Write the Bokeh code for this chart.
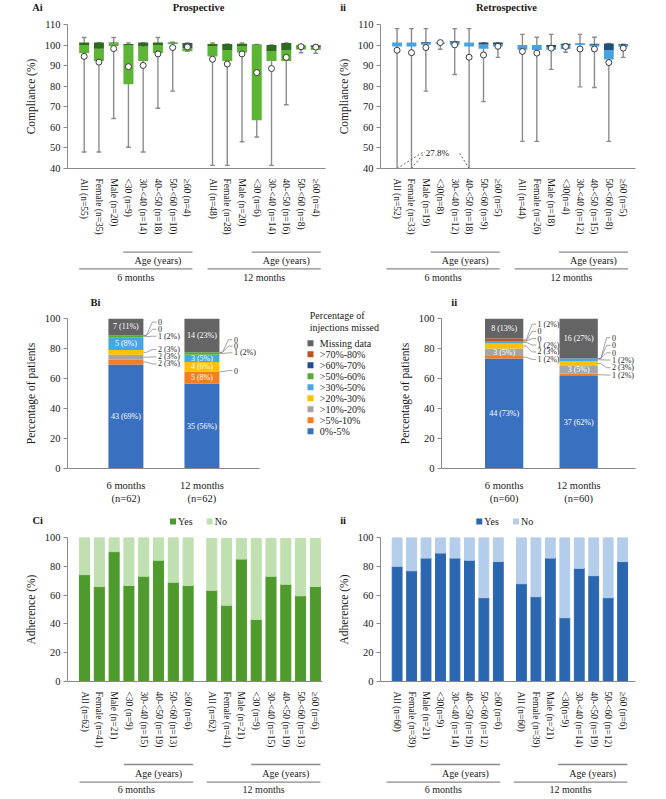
import math
from bokeh.plotting import figure
from bokeh.models import (Range1d, FixedTicker, CustomJSTickFormatter, ColumnDataSource)
from bokeh.layouts import column, row
from bokeh.embed import file_html
from bokeh.resources import INLINE
from bokeh.core.properties import value

FONT = "Liberation Serif"
AXIS_COLOR = "#8a8a8a"
TEXT_COLOR = "#1a1a1a"
WHISKER = "#8c8c8c"

# ======================= DATA =======================
# ---- A: compliance (%) box plots (6 months then 12 months) ----
pro_labels = ["All (n=55)", "Female (n=35)", "Male (n=20)", "<30 (n=9)", "30-<40 (n=14)",
              "40-<50 (n=18)", "50-<60 (n=10)", "≥60 (n=4)",
              "All (n=48)", "Female (n=28)", "Male (n=20)", "<30 (n=6)", "30-<40 (n=14)",
              "40-<50 (n=16)", "50-<60 (n=8)", "≥60 (n=4)"]
pro_min = [48.0, 48.0, 64.3, 50.3, 48.0, 69.3, 77.6, 97.0,
           41.5, 41.5, 53.0, 55.3, 41.5, 71.0, 96.3, 96.0]
pro_q1 = [96.0, 92.3, 99.5, 80.9, 92.3, 96.2, 100.5, 97.0,
          94.5, 92.3, 96.4, 63.4, 92.3, 92.3, 97.8, 97.6]
pro_med = [100.0, 98.2, 100.9, 100.0, 99.3, 100.0, 101.3, 98.5,
           99.6, 97.6, 99.6, 100.0, 97.1, 97.6, 99.9, 98.8]
pro_q3 = [101.2, 101.2, 101.2, 100.5, 101.2, 101.2, 101.4, 101.0,
          100.5, 100.5, 100.6, 100.3, 100.0, 101.0, 100.0, 99.9]
pro_max = [103.7, 101.2, 103.7, 101.0, 101.2, 103.7, 101.4, 101.0,
           101.0, 100.5, 101.0, 100.3, 100.0, 101.0, 100.0, 99.9]
pro_mean = [94.5, 91.7, 98.3, 89.5, 90.1, 95.7, 98.8, 99.1,
            93.1, 90.8, 95.7, 86.6, 88.6, 94.0, 99.2, 99.0]

ret_labels = ["All (n=52)", "Female (n=33)", "Male (n=19)", "<30(n=8)", "30-<40 (n=12)",
              "40-<50 (n=18)", "50-<60 (n=9)", "≥60 (n=5)",
              "All (n=44)", "Female (n=26)", "Male (n=18)", "<30(n=4)", "30-<40 (n=12)",
              "40-<50 (n=15)", "50-<60 (n=8)", "≥60 (n=5)"]
ret_min = [27.8, 27.8, 77.6, 98.0, 85.7, 27.8, 72.5, 94.0,
           53.2, 53.2, 88.2, 96.5, 79.7, 79.4, 53.2, 94.0]
ret_q1 = [99.3, 99.3, 100.1, 100.6, 100.2, 99.3, 98.2, 99.3,
          97.7, 97.6, 97.7, 98.1, 100.0, 99.3, 93.0, 99.2]
ret_med = [101.2, 101.2, 101.0, 101.2, 101.3, 101.2, 100.3, 100.4,
           100.0, 100.0, 99.1, 99.9, 100.5, 100.1, 97.6, 99.9]
ret_q3 = [101.2, 101.2, 101.4, 101.2, 101.9, 101.2, 101.2, 101.2,
          100.0, 100.0, 100.0, 100.6, 100.8, 100.6, 100.8, 100.4]
ret_max = [108.0, 108.0, 108.0, 101.2, 108.0, 108.0, 101.2, 101.2,
           105.2, 103.8, 105.2, 100.6, 105.2, 103.8, 100.8, 100.4]
ret_mean = [97.5, 96.3, 98.8, 101.2, 100.1, 94.1, 95.2, 99.4,
            96.9, 96.1, 98.5, 99.3, 98.1, 98.1, 91.5, 98.5]
ret_min_note = "27.8%"
ret_min_note_bars = [0, 1, 5]

# ---- B: percentage of injections missed (counts) ----
miss_cats = ["0%-5%", ">5%-10%", ">10%-20%", ">20%-30%", ">30%-50%",
             ">50%-60%", ">60%-70%", ">70%-80%", "Missing data"]
b_times_pro = ["6 months\n(n=62)", "12 months\n(n=62)"]
b_times_ret = ["6 months\n(n=60)", "12 months\n(n=60)"]
bi_n = 62
bi_6m = [43, 2, 2, 2, 5, 1, 0, 0, 7]
bi_12m = [35, 5, 0, 4, 3, 1, 0, 0, 14]
bii_n = 60
bii_6m = [44, 1, 3, 2, 1, 0, 0, 1, 8]
bii_12m = [37, 1, 3, 2, 1, 0, 0, 0, 16]
legend_title = ["Percentage of", "injections missed"]

# ---- C: adherence (%) ----
ci_labels = ["All (n=62)", "Female (n=41)", "Male (n=21)", "<30 (n=9)", "30-<40 (n=15)",
             "40-<50 (n=19)", "50-<60 (n=13)", "≥60 (n=6)"] * 2
ci_yes = [74.2, 65.9, 90.2, 66.7, 73.1, 84.2, 68.9, 66.7,
          63.3, 52.9, 85.0, 43.1, 73.1, 67.5, 59.5, 66.0]
ci_no = [25.8, 34.1, 9.8, 33.3, 26.9, 15.8, 31.1, 33.3,
         36.0, 46.4, 14.3, 56.2, 26.2, 31.8, 39.8, 33.3]
cii_labels = ["All (n=60)", "Female (n=39)", "Male (n=21)", "<30(n=9)", "30-<40 (n=14)",
              "40-<50 (n=19)", "50-<60 (n=12)", "≥60 (n=6)"] * 2
cii_yes = [80.0, 76.9, 85.7, 89.2, 85.7, 84.2, 58.2, 83.3,
           67.9, 58.9, 85.7, 44.3, 78.6, 73.5, 58.2, 83.3]
cii_no = [20.0, 23.1, 14.3, 10.8, 14.3, 15.8, 41.8, 16.7,
          32.1, 41.1, 14.3, 55.7, 21.4, 26.5, 41.8, 16.7]
adh_series = ["Yes", "No"]

group_names = ["6 months", "12 months"]
age_group_name = "Age (years)"

# ======================= STYLE =======================
miss_colors = ["#3a70c0", "#f67e1f", "#a5a5a5", "#ffc000", "#47a7e3",
               "#58ad36", "#1f4e8c", "#c0541c", "#646464"]
PRO_LIGHT, PRO_DARK = "#5cb534", "#2e6b20"
RET_LIGHT, RET_DARK = "#46a3e0", "#1f4f7a"
CI_COLORS = ["#4f9a2c", "#c0e0b1"]
CII_COLORS = ["#2b66b1", "#b4cdeb"]


def positions(offset):
    return [10 * i for i in range(8)] + [offset + 10 * i for i in range(8)]


def make_fig(w, h, bl, br, bt, bb, xr, yr, axes=True):
    kw = {} if axes else dict(x_axis_location=None, y_axis_location=None)
    p = figure(width=w, height=h, x_range=xr, y_range=yr, title=None,
               min_border_left=bl, min_border_right=br, min_border_top=bt,
               min_border_bottom=bb, output_backend="svg", toolbar_location=None,
               tools="", **kw)
    p.outline_line_color = None
    p.grid.visible = False
    p.background_fill_color = "white"
    p.border_fill_color = "white"
    return p


def text_fig(w, h, items):
    """Plain strip used for panel tags / titles; coordinates are pixels."""
    f = make_fig(w, h, 0, 0, 0, 0, Range1d(0, w), Range1d(h, 0), axes=False)
    for (x, y, t, align, bold, size) in items:
        f.text(x=[x], y=[y], text=[t], text_align=align, text_baseline="middle",
               text_font=value(FONT), text_font_size=size,
               text_font_style="bold" if bold else "normal", text_color=TEXT_COLOR)
    return f


def draw_key(f, xs, ys, labels, colors, dx, size="10px"):
    """Legend key: colour squares with their labels."""
    f.scatter(x=xs, y=ys, marker="square", size=6, fill_color=colors, line_color=None)
    f.text(x=[x + dx for x in xs], y=ys, text=labels, text_align="left",
           text_baseline="middle", text_font=value(FONT), text_font_size=size,
           text_color=TEXT_COLOR)


def style_y(p, label, ticks):
    ax = p.yaxis[0]
    ax.ticker = FixedTicker(ticks=ticks)
    ax.axis_label = label
    ax.axis_label_text_font = FONT
    ax.axis_label_text_font_size = "11.5px"
    ax.axis_label_text_font_style = "normal"
    ax.axis_label_text_color = TEXT_COLOR
    ax.axis_label_standoff = 5
    ax.major_label_text_font = FONT
    ax.major_label_text_font_size = "10.5px"
    ax.major_label_text_color = TEXT_COLOR
    ax.major_label_standoff = 3
    ax.major_tick_in = 0
    ax.major_tick_out = 4
    ax.minor_tick_line_color = None
    ax.axis_line_color = AXIS_COLOR
    ax.major_tick_line_color = AXIS_COLOR


def style_x(p, pos, labels, orient, size):
    ax = p.xaxis[0]
    ax.ticker = FixedTicker(ticks=list(pos))
    ax.formatter = CustomJSTickFormatter(
        args=dict(pos=list(pos), labs=list(labels)),
        code="const i = pos.indexOf(tick); return i >= 0 ? labs[i] : '';")
    ax.major_label_orientation = orient
    ax.major_label_text_font = FONT
    ax.major_label_text_font_size = size
    ax.major_label_text_color = TEXT_COLOR
    ax.major_label_standoff = 4
    ax.major_tick_line_color = None
    ax.minor_tick_line_color = None
    ax.axis_line_color = AXIS_COLOR


def strip_fig(w, h, bl, br, xr, pos, y_age_line, y_age_txt, y_mon_line, y_mon_txt):
    s = make_fig(w, h, bl, br, 0, 0, xr, Range1d(h, 0), axes=False)
    x0, x1, yy = [], [], []
    tx, ty, tt = [], [], []
    for g in range(2):
        grp = pos[g * 8:(g + 1) * 8]
        x0 += [grp[3] - 3.4, grp[0] - 3.4]
        x1 += [grp[7] + 3.4, grp[7] + 3.4]
        yy += [y_age_line, y_mon_line]
        tx += [(grp[3] + grp[7]) / 2, (grp[0] + grp[7]) / 2]
        ty += [y_age_txt, y_mon_txt]
        tt += [age_group_name, group_names[g]]
    s.segment(x0=x0, y0=yy, x1=x1, y1=yy, line_color="#8a8a8a", line_width=1.3)
    s.text(x=tx, y=ty, text=tt, text_align="center", text_baseline="middle",
           text_font=value(FONT), text_font_size="10px", text_color=TEXT_COLOR)
    return s


# widths of the two page columns
L_W, R_W = 334, 332

# ======================= PANEL A =======================
A_HEAD = 14
A_H, A_BT, A_BB = 223, 10, 61


def box_panel(w, bl, br, pos, xs, xe, labels, lo, q1, med, q3, hi, mean, light, dark):
    p = make_fig(w, A_H, bl, br, A_BT, A_BB, Range1d(xs, xe), Range1d(40, 110))
    style_y(p, "Compliance (%)", list(range(40, 111, 10)))
    style_x(p, pos, labels, "vertical", "9.5px")
    cap = 1.6
    p.segment(x0=pos, y0=lo, x1=pos, y1=hi, line_color=WHISKER, line_width=1.4)
    p.segment(x0=[x - cap for x in pos], y0=lo, x1=[x + cap for x in pos], y1=lo,
              line_color=WHISKER, line_width=1.4)
    p.segment(x0=[x - cap for x in pos], y0=hi, x1=[x + cap for x in pos], y1=hi,
              line_color=WHISKER, line_width=1.4)
    p.vbar(x=pos, width=6.8, bottom=q1, top=med, fill_color=light, line_color=None)
    p.vbar(x=pos, width=6.8, bottom=med, top=q3, fill_color=dark, line_color=None)
    p.scatter(x=pos, y=mean, marker="circle", size=6, fill_color="white",
              line_color="#3a3a3a", line_width=1)
    return p


pos_a = positions(87)
ha1 = text_fig(L_W, A_HEAD, [(31.7, 7.3, "Ai", "left", True, "10.5px"),
                             (198, 7.3, "Prospective", "center", True, "10.5px")])
ha2 = text_fig(R_W, A_HEAD, [(5.7, 7.3, "ii", "left", True, "10.5px"),
                             (172, 7.3, "Retrospective", "center", True, "10.5px")])

pa1 = box_panel(L_W, 67, 9, pos_a, -11.3, 163.6, pro_labels, pro_min, pro_q1, pro_med,
                pro_q3, pro_max, pro_mean, PRO_LIGHT, PRO_DARK)
pa2 = box_panel(R_W, 40, 31, pos_a, -11.5, 165.5, ret_labels, ret_min, ret_q1, ret_med,
                ret_q3, ret_max, ret_mean, RET_LIGHT, RET_DARK)

# 27.8% minimum call-out on the retrospective panel
ymin = 40
lx, ly = (pos_a[2] + pos_a[3]) / 2 + 3, ymin + 7.5
bars = [pos_a[i] for i in ret_min_note_bars]
pa2.segment(x0=bars, y0=[ymin] * len(bars), x1=[lx - 9.5, lx - 9.0, lx + 15.5],
            y1=[ly + 0.6, ly + 0.3, ly - 0.2], line_dash="2 2", line_color="#555555",
            line_width=0.9)
pa2.text(x=[lx], y=[ly], text=[ret_min_note], text_align="center",
         text_baseline="middle", text_font=value(FONT), text_font_size="9px",
         text_color=TEXT_COLOR)

sa1 = strip_fig(L_W, 47, 67, 9, pa1.x_range, pos_a, 14.7, 23, 31.3, 40)
sa2 = strip_fig(R_W, 47, 40, 31, pa2.x_range, pos_a, 14.7, 23, 31.3, 40)

# ======================= PANEL B =======================
B_HEAD = 24
B_H, B_BT, B_BB = 198, 10, 36
b_x = [1, 2]
# vertical placement of the small call-out labels (layout, bottom -> top)
callouts_bi = [[69.7, 74.4, 79.3, 88.2, 92.8, 97.6], [65.3, 77.1, 81.6, 85.8]]
callouts_bii = [[72.7, 77.7, 82.3, 86.6, 91.4, 96.2], [62.3, 67.2, 72.3, 77.1, 82.1, 87.2]]


def stack_panel(w, bl, br, xs, xe, bw, times, c6, c12, n, callouts):
    p = make_fig(w, B_H, bl, br, B_BT, B_BB, Range1d(xs, xe), Range1d(0, 100))
    style_y(p, "Percentage of patients", list(range(0, 101, 20)))
    style_x(p, b_x, times, "horizontal", "10.5px")
    p.xaxis[0].major_label_standoff = 5
    pct6 = [c / n * 100 for c in c6]
    pct12 = [c / n * 100 for c in c12]
    data = dict(x=b_x)
    for k, cat in enumerate(miss_cats):
        data[cat] = [pct6[k], pct12[k]]
    src = ColumnDataSource(data)
    p.vbar_stack(miss_cats, x="x", width=bw, fill_color=miss_colors, line_color=None,
                 source=src)
    frame_w = w - bl - br
    upx = (xe - xs) / frame_w
    in_x, in_y, in_t = [], [], []
    out_x, out_y, out_t = [], [], []
    lxs, lys = [], []
    for b, (counts, pcts) in enumerate([(c6, pct6), (c12, pct12)]):
        x = b_x[b]
        edge = x + bw / 2
        cum = 0.0
        j = 0
        for k in range(len(miss_cats)):
            mid = cum + pcts[k] / 2
            txt = "0" if counts[k] == 0 else f"{counts[k]} ({round(pcts[k])}%)"
            if counts[k] >= 3:
                in_x.append(x)
                in_y.append(mid)
                in_t.append(txt)
            else:
                yy = callouts[b][j]
                j += 1
                lxs.append([edge, edge + 3 * upx, edge + 9 * upx, edge + 13 * upx])
                lys.append([mid, mid, yy, yy])
                out_x.append(edge + 14.5 * upx)
                out_y.append(yy)
                out_t.append(txt)
            cum += pcts[k]
    p.multi_line(xs=lxs, ys=lys, line_color="#8a8a8a", line_width=0.8)
    p.text(x=in_x, y=in_y, text=in_t, text_align="center", text_baseline="middle",
           text_font=value(FONT), text_font_size="8px", text_color="white")
    p.text(x=out_x, y=out_y, text=out_t, text_align="left", text_baseline="middle",
           text_font=value(FONT), text_font_size="8px", text_color="#262626")
    return p


BI_W, LEG_W, BII_W = 267, 128, 271
hb1 = text_fig(BI_W, B_HEAD, [(32, 17.7, "Bi", "left", True, "10.5px")])
hb2 = text_fig(BII_W, B_HEAD, [(13.7, 17.7, "ii", "left", True, "10.5px")])

pb1 = stack_panel(BI_W, 67, 8, 0.232, 2.757, 0.46, b_times_pro,
                  bi_6m, bi_12m, bi_n, callouts_bi)
pb2 = stack_panel(BII_W, 42, 31, 0.159, 2.763, 0.514, b_times_ret,
                  bii_6m, bii_12m, bii_n, callouts_bii)

# legend column between the two B panels (pixel coordinates from the top of row B)
LEG_H = B_HEAD + B_H
legfig = make_fig(LEG_W, LEG_H, 0, 0, 0, 0, Range1d(0, LEG_W), Range1d(LEG_H, 0),
                  axes=False)
legfig.text(x=[42.3, 42.3], y=[31, 42.7], text=legend_title, text_align="left",
            text_baseline="middle", text_font=value(FONT), text_font_size="10px",
            text_color=TEXT_COLOR)
key_cats = list(reversed(miss_cats))
key_cols = list(reversed(miss_colors))
draw_key(legfig, [43] * len(key_cats), [58.7 + 11 * i for i in range(len(key_cats))],
         key_cats, key_cols, 9.3)

# ======================= PANEL C =======================
C_HEAD = 25
C_H, C_BT, C_BB = 219, 6, 61


def adh_panel(w, bl, br, pos, xs, xe, labels, yes, no, colors):
    p = make_fig(w, C_H, bl, br, C_BT, C_BB, Range1d(xs, xe), Range1d(0, 100))
    style_y(p, "Adherence (%)", list(range(0, 101, 20)))
    style_x(p, pos, labels, "vertical", "9.5px")
    tops = [a + b for a, b in zip(yes, no)]
    p.vbar(x=pos, width=6.8, bottom=0, top=yes, color=colors[0])
    p.vbar(x=pos, width=6.8, bottom=yes, top=tops, color=colors[1])
    return p


def adh_header(w, tag_x, tag, key_x, colors):
    f = text_fig(w, C_HEAD, [(tag_x, 14, tag, "left", True, "10.5px")])
    draw_key(f, [key_x, key_x + 36.7], [15, 15], adh_series, colors, 5)
    return f


pos_c = positions(86)
hc1 = adh_header(L_W, 32, "Ci", 172.5, CI_COLORS)
hc2 = adh_header(R_W, 5.7, "ii", 144.8, CII_COLORS)
pc1 = adh_panel(L_W, 67, 12, pos_c, -11.5, 160.8, ci_labels, ci_yes, ci_no, CI_COLORS)
pc2 = adh_panel(R_W, 40, 31, pos_c, -11.5, 164.9, cii_labels, cii_yes, cii_no, CII_COLORS)

sc1 = strip_fig(L_W, 47, 67, 12, pc1.x_range, pos_c, 14, 22.7, 31.7, 39.3)
sc2 = strip_fig(R_W, 47, 40, 31, pc2.x_range, pos_c, 14, 22.7, 31.7, 39.3)

layout = column(
    row(ha1, ha2), row(pa1, pa2), row(sa1, sa2),
    row(column(hb1, pb1), legfig, column(hb2, pb2)),
    row(hc1, hc2), row(pc1, pc2), row(sc1, sc2),
)

open("out.html", "w").write(file_html(layout, INLINE, title="Compliance and adherence"))
